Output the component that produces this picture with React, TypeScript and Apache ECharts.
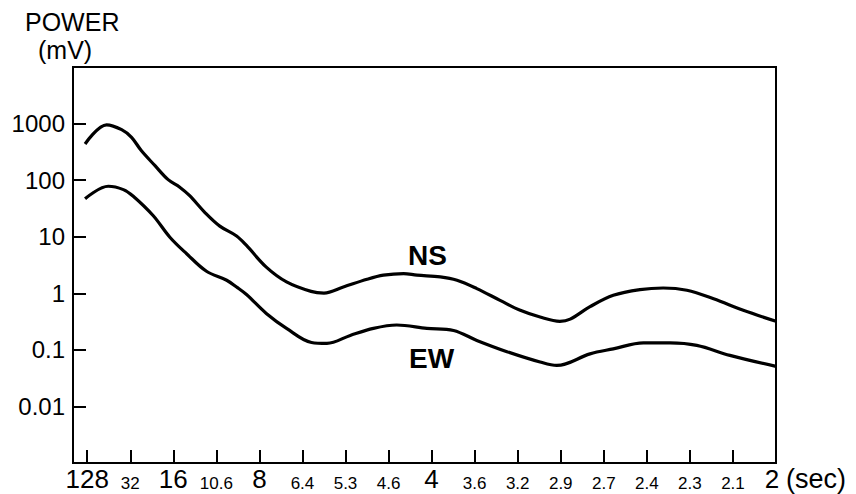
import React, { useEffect, useRef } from "react";
import * as echarts from "echarts";

// x positions are in units of k, where frequency = k / 32 Hz (period = 32 / k s)
const X_TICK_POS = [0, 1, 2, 3, 4, 5, 6, 7, 8, 9, 10, 11, 12, 13, 14, 15, 16];
const X_TICK_LABELS = ["128", "32", "16", "10.6", "8", "6.4", "5.3", "4.6", "4", "3.6", "3.2", "2.9", "2.7", "2.4", "2.3", "2.1", "2"];
const X_BIG_LABELS = ["128", "16", "8", "4", "2"];

const Y_TICK_VALUES = [0.01, 0.1, 1, 10, 100, 1000];
const Y_TICK_LABELS = ["0.01", "0.1", "1", "10", "100", "1000"];

const NS_K = [-0.05, 0.45, 0.8, 1.03, 1.26, 1.57, 1.88, 2.15, 2.38, 2.73, 3.08, 3.47, 3.7, 4.16, 4.63, 5.2, 5.5, 5.95, 6.5, 6.88, 7.35, 7.66, 8.2, 8.59, 9.05, 9.59, 10.06, 10.52, 10.98, 11.22, 11.68, 12.22, 12.84, 13.38, 13.93, 14.55, 15.24, 16.0];
const NS_POWER = [436, 950, 780, 570, 330, 182, 102, 75, 53, 27, 15.4, 10.3, 7.0, 2.9, 1.59, 1.08, 1.01, 1.29, 1.77, 2.09, 2.23, 2.09, 1.95, 1.7, 1.21, 0.75, 0.5, 0.38, 0.32, 0.35, 0.58, 0.92, 1.16, 1.24, 1.13, 0.8, 0.5, 0.32];

const EW_K = [-0.05, 0.49, 0.84, 1.07, 1.53, 1.92, 2.31, 2.77, 3.24, 3.47, 3.7, 4.16, 4.63, 5.21, 5.57, 6.11, 6.65, 7.19, 7.89, 8.51, 9.05, 9.75, 10.52, 10.91, 11.68, 12.22, 12.92, 13.54, 14.16, 14.93, 16.0];
const EW_POWER = [47, 78, 68, 52, 23.7, 9.8, 5.0, 2.45, 1.7, 1.29, 0.95, 0.44, 0.24, 0.135, 0.13, 0.18, 0.24, 0.275, 0.24, 0.22, 0.147, 0.093, 0.061, 0.053, 0.085, 0.104, 0.133, 0.133, 0.12, 0.08, 0.051];

const FONT = "'Liberation Sans', Arial, Helvetica, sans-serif";

export default function App() {
  const ref = useRef<HTMLDivElement>(null);
  useEffect(() => {
    if (!ref.current) return;
    const chart = echarts.init(ref.current, null, { renderer: "svg" });
    const zip = (xs: number[], ys: number[]) => xs.map((x, i) => [x, ys[i]]);
    chart.setOption({
      animation: false,
      backgroundColor: "#fff",
      textStyle: { fontFamily: FONT, color: "#000" },
      grid: {
        left: 73,
        right: 80,
        top: 67,
        bottom: 31,
        show: true,
        borderColor: "#000",
        borderWidth: 2,
        containLabel: false,
      },
      xAxis: {
        type: "value",
        min: -0.33,
        max: 16,
        splitLine: { show: false },
        axisLine: { show: true, onZero: false, lineStyle: { color: "#000", width: 2 } },
        axisTick: {
          show: true,
          inside: true,
          length: 13,
          customValues: X_TICK_POS,
          lineStyle: { color: "#000", width: 2 },
        },
        axisLabel: {
          show: true,
          customValues: X_TICK_POS,
          showMinLabel: true,
          showMaxLabel: true,
          margin: 2,
          color: "#000",
          formatter: (v: number) => {
            const i = X_TICK_POS.indexOf(Math.round(v));
            if (i < 0) return "";
            const t = X_TICK_LABELS[i];
            if (i === X_TICK_LABELS.length - 1) return `{last|${t}}`;
            return X_BIG_LABELS.includes(t) ? `{big|${t}}` : `{small|${t}}`;
          },
          rich: {
            big: { fontSize: 26, fontFamily: FONT, color: "#000", lineHeight: 28 },
            last: { fontSize: 26, fontFamily: FONT, color: "#000", lineHeight: 28, padding: [0, 8, 0, 0] },
            small: { fontSize: 17, fontFamily: FONT, color: "#000", lineHeight: 28, padding: [9, 0, 0, 0] },
          },
        },
      },
      yAxis: {
        type: "log",
        logBase: 10,
        min: 0.001,
        max: 10000,
        splitLine: { show: false },
        axisLine: { show: true, onZero: false, lineStyle: { color: "#000", width: 2 } },
        axisTick: {
          show: true,
          inside: true,
          length: 13,
          customValues: Y_TICK_VALUES,
          lineStyle: { color: "#000", width: 2 },
        },
        axisLabel: {
          show: true,
          customValues: Y_TICK_VALUES,
          margin: 8,
          fontSize: 24,
          fontFamily: FONT,
          color: "#000",
          formatter: (v: number) => {
            const lg = Math.round(Math.log10(v));
            const i = Y_TICK_VALUES.findIndex((t) => Math.round(Math.log10(t)) === lg);
            return i < 0 ? "" : Y_TICK_LABELS[i];
          },
        },
      },
      series: [
        {
          name: "NS",
          type: "line",
          data: zip(NS_K, NS_POWER),
          smooth: 0.35,
          symbol: "none",
          lineStyle: { color: "#000", width: 3.2 },
        },
        {
          name: "EW",
          type: "line",
          data: zip(EW_K, EW_POWER),
          smooth: 0.35,
          symbol: "none",
          lineStyle: { color: "#000", width: 3.2 },
        },
      ],
      graphic: [
        {
          type: "text",
          left: 25,
          top: 9,
          style: { text: "POWER", fontSize: 25, fontFamily: FONT, fill: "#000" },
        },
        {
          type: "text",
          left: 38,
          top: 37,
          style: { text: "(mV)", fontSize: 25, fontFamily: FONT, fill: "#000" },
        },
        {
          type: "text",
          left: 408,
          top: 241,
          style: { text: "NS", fontSize: 28, fontWeight: "bold", fontFamily: FONT, fill: "#000" },
        },
        {
          type: "text",
          left: 409,
          top: 344,
          style: { text: "EW", fontSize: 28, fontWeight: "bold", fontFamily: FONT, fill: "#000" },
        },
        {
          type: "text",
          left: 786,
          top: 465,
          style: { text: "(sec)", fontSize: 27, fontFamily: FONT, fill: "#000" },
        },
      ],
    });
    return () => chart.dispose();
  }, []);
  return (
    <div
      ref={ref}
      style={{ position: "fixed", left: 0, top: 0, width: 856, height: 494, background: "#fff" }}
    />
  );
}
